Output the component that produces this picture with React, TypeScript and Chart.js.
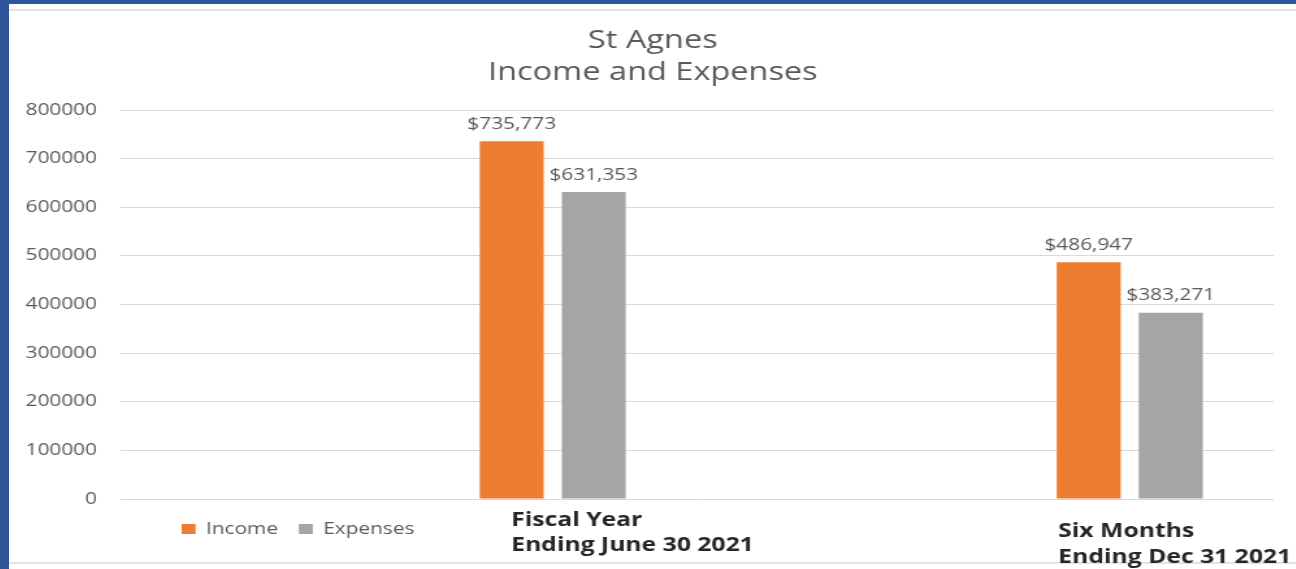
import React, { useEffect, useRef } from "react";
import { Chart, registerables } from "chart.js";

Chart.register(...registerables);

const categories: string[][] = [
  [],
  ["Fiscal Year", "Ending June 30 2021"],
  [],
  ["Six Months", "Ending Dec 31 2021"],
];
const incomeValues: (number | null)[] = [null, 735773, null, 486947];
const expenseValues: (number | null)[] = [null, 631353, null, 383271];
const seriesNames = ["Income", "Expenses"];
const titleLines = ["St Agnes", "Income and Expenses"];
const yMin = 0;
const yMax = 800000;
const yStep = 100000;

const SX = 1.3; // horizontal stretch of the reference picture
const FONT = "'Open Sans', 'Noto Sans', sans-serif";

const fmt = (v: number) => "$" + v.toLocaleString("en-US");

const valueLabels = {
  id: "valueLabels",
  afterDatasetsDraw(chart: any) {
    const ctx = chart.ctx;
    ctx.save();
    ctx.font = `16px ${FONT}`;
    ctx.fillStyle = "#595959";
    ctx.textAlign = "center";
    ctx.textBaseline = "middle";
    chart.data.datasets.forEach((ds: any, di: number) => {
      const meta = chart.getDatasetMeta(di);
      meta.data.forEach((el: any, i: number) => {
        const v = ds.data[i];
        if (v == null) return;
        ctx.fillText(fmt(v), el.x, el.y - 17);
      });
    });
    ctx.restore();
  },
};

const categoryLabels = {
  id: "categoryLabels",
  afterLayout(chart: any) {
    // start the legend under the plot like the reference
    if (chart.legend) chart.legend.left += 116;
  },
  afterDraw(chart: any) {
    const ctx = chart.ctx;
    const xs = chart.scales.x;
    const bottom = chart.chartArea.bottom;
    const nudgeX = [0, -32, 0, -55];
    const nudgeY = [0, 21.5, 0, 33];
    ctx.save();
    ctx.font = `bold 19px ${FONT}`;
    ctx.fillStyle = "#262626";
    ctx.textAlign = "left";
    ctx.textBaseline = "middle";
    categories.forEach((lines, i) => {
      const x = xs.getPixelForValue(i) + nudgeX[i];
      lines.forEach((line, li) => {
        ctx.fillText(line, x, bottom + nudgeY[i] + li * 25.5);
      });
    });
    ctx.restore();
  },
};

export default function App() {
  const ref = useRef<HTMLCanvasElement | null>(null);

  useEffect(() => {
    if (!ref.current) return;
    const chart = new Chart(ref.current, {
      type: "bar",
      data: {
        labels: categories.map((c) => c.join(" ")),
        datasets: [
          {
            label: seriesNames[0],
            data: incomeValues,
            backgroundColor: "#ED7D31",
            borderWidth: 0,
            categoryPercentage: 0.5685,
            barPercentage: 0.78,
          },
          {
            label: seriesNames[1],
            data: expenseValues,
            backgroundColor: "#A5A5A5",
            borderWidth: 0,
            categoryPercentage: 0.5685,
            barPercentage: 0.78,
          },
        ],
      },
      options: {
        animation: false,
        responsive: false,
        devicePixelRatio: 1,
        layout: { padding: { left: 0, right: 0, top: 0, bottom: 22 } },
        plugins: {
          title: {
            display: true,
            text: titleLines,
            color: "#595959",
            font: { family: FONT, size: 25, weight: "normal", lineHeight: 1.26 },
            padding: { top: 14.5, bottom: 21.5 },
          },
          legend: {
            display: true,
            position: "bottom",
            align: "start",
            labels: {
              color: "#595959",
              font: { family: FONT, size: 16 },
              boxWidth: 10.8,
              boxHeight: 10,
              padding: 16,
            },
          },
          tooltip: { enabled: false },
        },
        scales: {
          x: {
            grid: { display: false },
            border: { display: false },
            ticks: { display: false },
            afterFit: (s: any) => {
              s.height = 6;
            },
          },
          y: {
            min: yMin,
            max: yMax,
            grid: { color: "#d9d9d9", lineWidth: 1, drawTicks: false },
            border: { display: false },
            ticks: {
              stepSize: yStep,
              color: "#595959",
              font: { family: FONT, size: 16 },
              padding: 17.7,
              callback: (v: any) => String(v),
            },
            afterFit: (s: any) => {
              s.width = 84.6;
            },
          },
          yRight: {
            position: "right",
            min: yMin,
            max: yMax,
            grid: { display: false },
            border: { display: false },
            ticks: { display: false },
            afterFit: (s: any) => {
              s.width = 16.7;
            },
          },
        },
      },
      plugins: [valueLabels, categoryLabels],
    });
    return () => chart.destroy();
  }, []);

  return (
    <div style={{ position: "fixed", inset: 0, background: "#2e5597", overflow: "hidden" }}>
      <div style={{ position: "absolute", left: 9, top: 4, right: 0, bottom: 0, background: "#ffffff" }}>
        <div style={{ position: "absolute", left: 0, right: 0, top: 5, height: 2, background: "#e2e2e2" }} />
        <div style={{ position: "absolute", left: 0, right: 0, top: 558, height: 2, background: "#e2e2e2" }} />
        <div
          style={{
            position: "absolute",
            left: 1,
            top: 7,
            width: 989,
            height: 558,
            transform: `scaleX(${SX})`,
            transformOrigin: "0 0",
          }}
        >
          <canvas ref={ref} width={989} height={558} style={{ display: "block" }} />
        </div>
      </div>
    </div>
  );
}
